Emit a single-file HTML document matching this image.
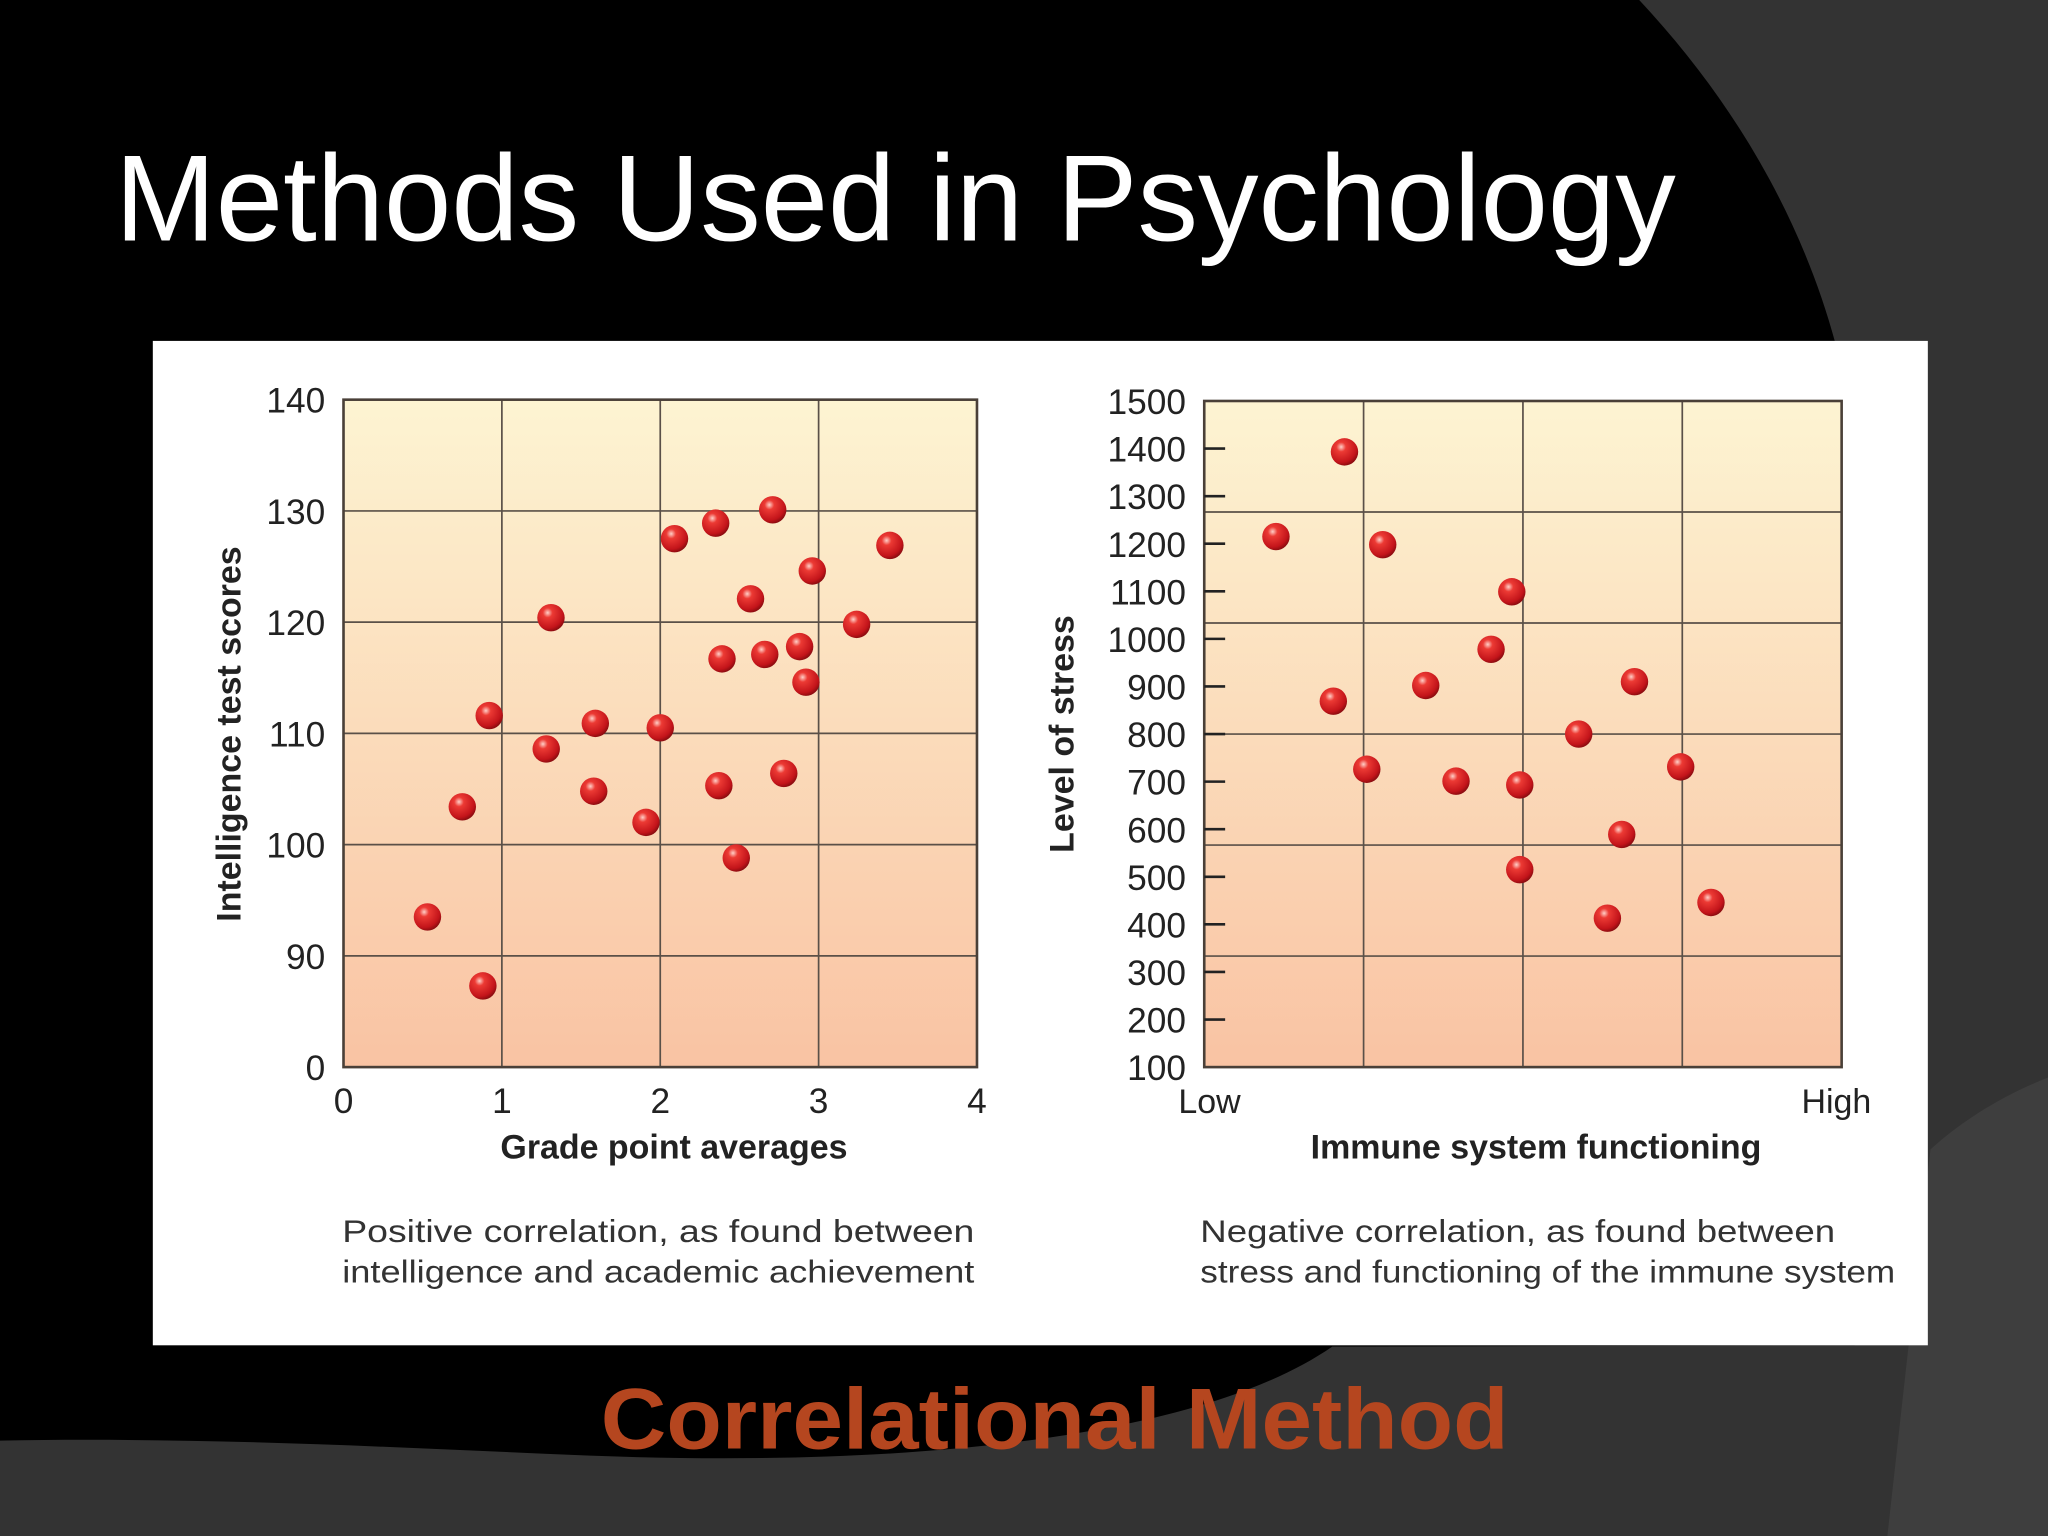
<!DOCTYPE html>
<html><head><meta charset="utf-8"><style>
html,body{margin:0;padding:0;background:#000;}
svg{display:block;}
</style></head><body>
<svg width="2048" height="1536" viewBox="0 0 1568 1176" xmlns="http://www.w3.org/2000/svg">
<defs>
<linearGradient id="pg" x1="0" y1="0" x2="0" y2="1"><stop offset="0" stop-color="#fdf4d2"/><stop offset="1" stop-color="#f9c3a3"/></linearGradient>
<radialGradient id="ball" cx="0.38" cy="0.32" r="0.7"><stop offset="0" stop-color="#ffd0c8"/><stop offset="0.25" stop-color="#ec3a34"/><stop offset="0.8" stop-color="#c3141a"/><stop offset="1" stop-color="#8a0c10"/></radialGradient>
</defs>
<rect width="1568" height="1176" fill="#000"/>
<path d="M1255 0 C1330 80 1380 170 1405 262 L1420 1030 L1020 1031 C920 1100 700 1125 440 1114 C300 1108 150 1100 0 1103 L0 1176 L1568 1176 L1568 0 Z" fill="#333"/>
<path d="M1568 825 C1530 840 1500 860 1478 880 L1445 1176 L1568 1176 Z" fill="#3e3e3e"/>
<text x="88" y="184" font-family="Liberation Sans, sans-serif" font-size="94" fill="#fff" textLength="1195" lengthAdjust="spacingAndGlyphs">Methods Used in Psychology</text>
<rect x="117" y="261" width="1359" height="769" fill="#fff"/>
<g id="left"></g>
<g id="right"></g>
<text x="460" y="1109" font-family="Liberation Sans, sans-serif" font-weight="bold" font-size="66" fill="#b5461f" textLength="695" lengthAdjust="spacingAndGlyphs">Correlational Method</text>
</svg>
<script>
const gpaValues=[0.53,0.75,0.88,0.92,1.28,1.31,1.58,1.59,1.91,2.00,2.09,2.35,2.37,2.39,2.48,2.57,2.66,2.71,2.78,2.88,2.92,2.96,3.24,3.45];
const iqValues=[93.5,103.4,87.3,111.6,108.6,120.4,104.8,110.9,102.0,110.5,127.5,128.9,105.3,116.7,98.8,122.1,117.1,130.1,106.4,117.8,114.6,124.6,119.8,126.9];
const leftXTicks=[0,1,2,3,4];
const leftYTicks=[80,90,100,110,120,130,140];
const leftYLabels=["0","90","100","110","120","130","140"];
const immuneValues=[0.45,0.88,1.12,0.81,1.02,1.39,1.58,1.80,1.93,1.98,1.98,2.35,2.53,2.62,2.70,2.99,3.18];
const stressValues=[1215,1393,1198,869,726,902,701,978,1099,693,515,800,413,589,910,731,446];
const rightYTicks=[100,200,300,400,500,600,700,800,900,1000,1100,1200,1300,1400,1500];

const NS="http://www.w3.org/2000/svg";
function mk(parent,tag,attrs,text){const e=document.createElementNS(NS,tag);for(const k in attrs)e.setAttribute(k,attrs[k]);if(text!==undefined)e.textContent=text;parent.appendChild(e);return e;}
const FONT="Liberation Sans, DejaVu Sans, sans-serif";

// LEFT
const L=document.getElementById('left');
const lx=v=>263+(v-0)/4*(748-263);
const ly=v=>817-(v-80)/60*(817-306);
let r=mk(L,'rect',{x:263,y:306,width:485,height:511,fill:'url(#pg)'});


for(let i=1;i<4;i++){let g=mk(L,'line',{x1:lx(i),x2:lx(i),y1:306,y2:817,stroke:'#5a5048','stroke-width':1.3});

}
for(let i=1;i<leftYTicks.length-1;i++){let y=ly(leftYTicks[i]);let g=mk(L,'line',{x1:263,x2:748,y1:y,y2:y,stroke:'#5a5048','stroke-width':1.3});

}
r=mk(L,'rect',{x:263,y:306,width:485,height:511,fill:'none',stroke:'#4a4038','stroke-width':2});


leftYTicks.forEach((v,i)=>{let t=mk(L,'text',{x:249,y:ly(v)+10,'text-anchor':'end','font-family':FONT,'font-size':27,fill:'#222'},leftYLabels[i]);

});
leftXTicks.forEach(v=>{let t=mk(L,'text',{x:lx(v),y:852,'text-anchor':'middle','font-family':FONT,'font-size':27,fill:'#222'},String(v));

});
let t=mk(L,'text',{x:516,y:887,'text-anchor':'middle','font-family':FONT,'font-weight':'bold','font-size':26,fill:'#222'},'Grade point averages');


t=mk(L,'text',{x:0,y:0,transform:'translate(184,562) rotate(-90)','text-anchor':'middle','font-family':FONT,'font-weight':'bold','font-size':26,fill:'#222'},'Intelligence test scores');


t=mk(L,'text',{x:262,y:951,'font-family':FONT,'font-size':24,fill:'#333',textLength:484,lengthAdjust:'spacingAndGlyphs'},'Positive correlation, as found between');


t=mk(L,'text',{x:262,y:982,'font-family':FONT,'font-size':24,fill:'#333',textLength:484,lengthAdjust:'spacingAndGlyphs'},'intelligence and academic achievement');


gpaValues.forEach((v,i)=>{let c=mk(L,'circle',{cx:lx(v),cy:ly(iqValues[i]),r:10.5,fill:'url(#ball)'});

});

// RIGHT
const R=document.getElementById('right');
const rx=v=>922+v/4*(1410-922);
const ry=v=>817-(v-100)/1400*(817-307);
r=mk(R,'rect',{x:922,y:307,width:488,height:510,fill:'url(#pg)'});


for(let i=1;i<4;i++){let g=mk(R,'line',{x1:rx(i),x2:rx(i),y1:307,y2:817,stroke:'#5a5048','stroke-width':1.3});

}
for(let i=1;i<6;i++){let y=307+i*510/6;let g=mk(R,'line',{x1:922,x2:1410,y1:y,y2:y,stroke:'#5a5048','stroke-width':1.3});

}
r=mk(R,'rect',{x:922,y:307,width:488,height:510,fill:'none',stroke:'#4a4038','stroke-width':2});


rightYTicks.forEach(v=>{let y=ry(v);
if(v>100&&v<1500){let m=mk(R,'line',{x1:922,x2:938,y1:y,y2:y,stroke:'#222','stroke-width':2});

}
let tt=mk(R,'text',{x:908,y:y+10,'text-anchor':'end','font-family':FONT,'font-size':27,fill:'#222'},String(v));

});
t=mk(R,'text',{x:926,y:852,'text-anchor':'middle','font-family':FONT,'font-size':26,fill:'#222'},'Low');


t=mk(R,'text',{x:1406,y:852,'text-anchor':'middle','font-family':FONT,'font-size':26,fill:'#222'},'High');


t=mk(R,'text',{x:1176,y:887,'text-anchor':'middle','font-family':FONT,'font-weight':'bold','font-size':26,fill:'#222'},'Immune system functioning');


t=mk(R,'text',{x:0,y:0,transform:'translate(822,562) rotate(-90)','text-anchor':'middle','font-family':FONT,'font-weight':'bold','font-size':26,fill:'#222'},'Level of stress');


t=mk(R,'text',{x:919,y:951,'font-family':FONT,'font-size':24,fill:'#333',textLength:486,lengthAdjust:'spacingAndGlyphs'},'Negative correlation, as found between');


t=mk(R,'text',{x:919,y:982,'font-family':FONT,'font-size':24,fill:'#333',textLength:532,lengthAdjust:'spacingAndGlyphs'},'stress and functioning of the immune system');


immuneValues.forEach((v,i)=>{let c=mk(R,'circle',{cx:rx(v),cy:ry(stressValues[i]),r:10.5,fill:'url(#ball)'});

});
</script>
</body></html>
